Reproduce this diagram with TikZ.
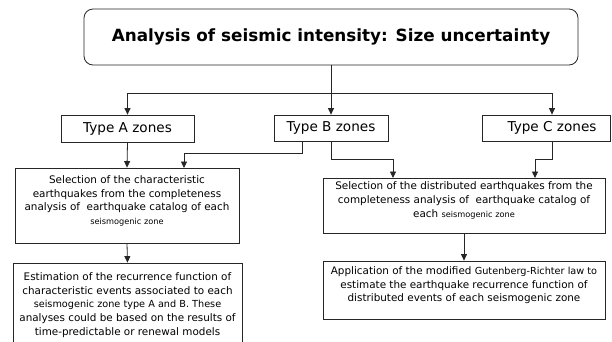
\documentclass[tikz,border=0pt]{standalone}
\usepackage{fontspec}
\setmainfont{DejaVu Sans}
\usetikzlibrary{arrows.meta,calc}
\newcommand{\sm}[1]{{\fontsize{8.2}{13.7}\selectfont #1}}
\newcommand{\md}[1]{{\fontsize{9.7}{13.7}\selectfont #1}}
\begin{document}
\begin{tikzpicture}[x=1pt,y=-1pt,line width=0.8pt,
  box/.style={draw=black!85, inner sep=0pt, align=center, font=\fontsize{10.4}{13.7}\selectfont},
  zonebox/.style={draw=black!85, inner sep=0pt, align=center, font=\fontsize{13.6}{15}\selectfont},
  arr/.style={draw=black!85,-{Triangle[length=6.5pt,width=6pt]}}]
\useasboundingbox (0,0) rectangle (612,341);
\fill[white] (0,0) rectangle (612,341);
\node[box, rounded corners=9pt, minimum width=494pt, minimum height=56pt,
  font=\bfseries\fontsize{16.8}{18}\selectfont] (title) at (331,37) {Analysis of seismic intensity: Size uncertainty};
\node[zonebox, minimum width=133pt, minimum height=27pt] (ta) at (127.5,128.5) {Type A zones};
\node[zonebox, minimum width=114pt, minimum height=26pt] (tb) at (331,128) {Type B zones};
\node[zonebox, minimum width=128pt, minimum height=26pt] (tc) at (546,128) {\hspace{12pt}Type C zones};
\node[box, minimum width=224pt, minimum height=75pt] (sel) at (127,205.5)
  {Selection of the characteristic\\earthquakes from the completeness\\analysis of \ earthquake catalog of each\\\sm{seismogenic zone}\\[-3pt]};
\node[box, minimum width=229pt, minimum height=82pt, text depth=0pt] (est) at (127.5,304)
  {Estimation of the recurrence function of\\characteristic events associated to each\\\md{seismogenic zone type A and B. These}\\analyses could be based on the results of\\time-predictable or renewal models};
\node[box, minimum width=282pt, minimum height=55pt] (dist) at (464,205.5)
  {Selection of the distributed earthquakes from the\\completeness analysis of \ earthquake catalog of\\each \sm{seismogenic zone}\\[-2pt]};
\node[box, minimum width=282pt, minimum height=58pt] (app) at (464,290)
  {Application of the modified \md{Gutenberg-Richter law to}\\estimate the earthquake recurrence function of\\distributed events of each seismogenic zone\\[-2pt]};
\coordinate (j) at (331,93);
\draw[arr] (title.south) -- (tb.north);
\draw[arr] (j) -| (ta.north);
\draw[arr] (j) -| ($(tc.north)+(6,0)$);
\draw[arr] (ta.south) -- (sel.north);
\draw[arr] ($(tb.south)+(-29,0)$) |- (184,153) -- (184,168);
\draw[arr] (tb.south) |- (393,159) -- (393,178);
\draw[arr] ($(tc.south)+(6,0)$) |- (535,159) -- (535,178);
\draw[arr] (sel.south) -- (est.north);
\draw[arr] (dist.south) -- (app.north);
\end{tikzpicture}
\end{document}
